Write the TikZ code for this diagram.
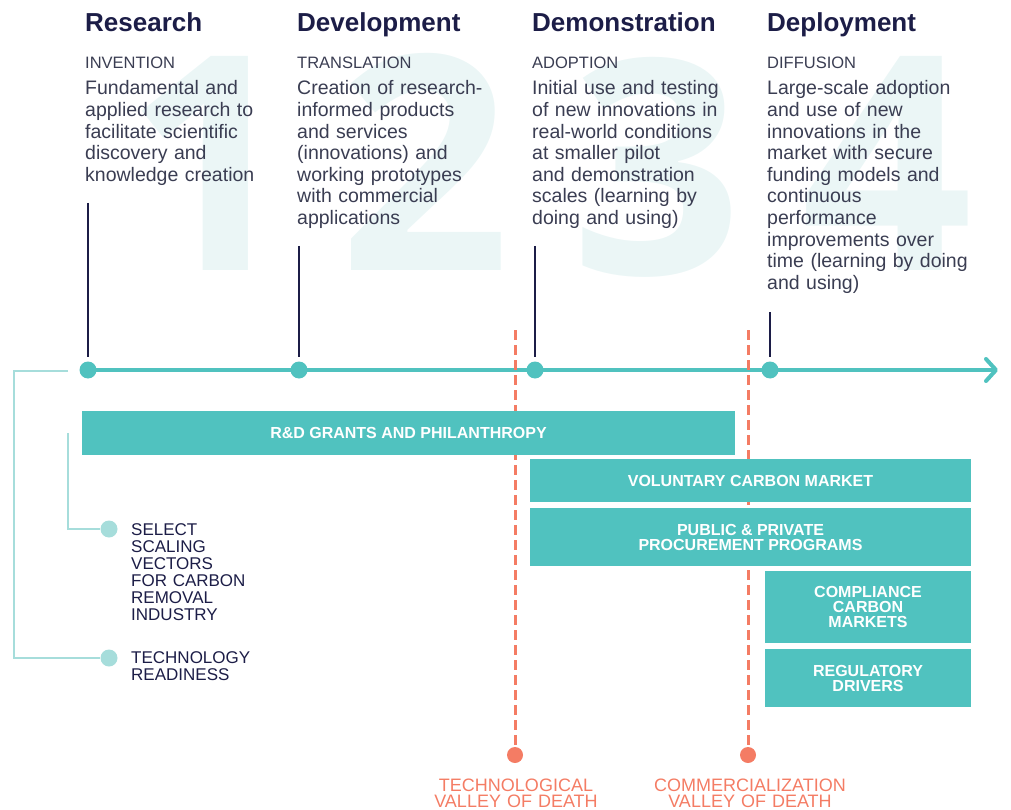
\documentclass[tikz,border=0pt]{standalone}
\usepackage{fontspec}
\setmainfont{Liberation Sans}
\newfontfamily\numfont{Open Sans}
\usetikzlibrary{arrows.meta}
\usetikzlibrary{positioning}

\definecolor{navy}{HTML}{1C1D47}
\definecolor{bodygray}{HTML}{3A3D52}
\definecolor{barteal}{HTML}{50C2BF}
\definecolor{paleteal}{HTML}{A6DDDB}
\definecolor{salmon}{HTML}{F47C64}
\definecolor{ghost}{HTML}{EBF6F6}

\begin{document}
\begin{tikzpicture}[x=1pt, y=-1pt,
	stage/.style={anchor=base west, inner sep=0, text=navy, font=\fontsize{26}{26}\selectfont\bfseries},
	phase/.style={anchor=base west, inner sep=0, text=bodygray, font=\fontsize{16.5}{16.5}\selectfont},
	blurb/.style={anchor=base west, inner sep=0, text width=240pt, align=left, text=bodygray, font=\fontsize{19.5}{21.6}\selectfont},
	bignum/.style={anchor=base, inner sep=0, text=ghost, font=\numfont\fontsize{300}{300}\selectfont\bfseries},
	milestone/.style={circle, fill=barteal, inner sep=0, minimum size=17pt},
	leader/.style={navy, line width=2pt},
	timeline/.style={barteal, line width=4pt, -{Straight Barb[length=10pt, width=22pt, line cap=round, line join=round]}},
	funding/.style={fill=barteal, inner sep=0, align=center, text=white, font=\fontsize{16}{15}\selectfont\bfseries},
	valley/.style={salmon, line width=3pt, dash pattern=on 10pt off 5pt},
	valleydot/.style={circle, fill=salmon, inner sep=0, minimum size=16pt},
	valleytext/.style={anchor=base, inner sep=0, text width=240pt, align=center, text=salmon, font=\fontsize{18}{16}\selectfont},
	bracket/.style={paleteal, line width=2pt},
	keydot/.style={circle, fill=paleteal, inner sep=0, minimum size=17pt},
	keytext/.style={anchor=base west, inner sep=0, text width=150pt, align=left, text=navy, font=\fontsize{17}{17}\selectfont}]

\useasboundingbox (0,0) rectangle (1011,810);

% big stage numbers behind the text
\node[bignum] (n1) at (210,270) {1};
\node[bignum] (n2) at (425,270) {2};
\node[bignum] (n3) at (657,274) {3};
\node[bignum] (n4) at (887,270) {4};

% stages
\node[stage] (research) at (85,32) {Research};
\node[phase] (invention) at (85,69) {INVENTION};
\node[blurb] (b1) at (85,95) {Fundamental and\\applied research to\\facilitate scientific\\discovery and\\knowledge creation};

\node[stage] (development) at (297,32) {Development};
\node[phase] (translation) at (297,69) {TRANSLATION};
\node[blurb] (b2) at (297,95) {Creation of research-\\informed products\\and services\\(innovations) and\\working prototypes\\with commercial\\applications};

\node[stage] (demonstration) at (532,32) {Demonstration};
\node[phase] (adoption) at (532,69) {ADOPTION};
\node[blurb] (b3) at (532,95) {Initial use and testing\\of new innovations in\\real-world conditions\\at smaller pilot\\and demonstration\\scales (learning by\\doing and using)};

\node[stage] (deployment) at (767,32) {Deployment};
\node[phase] (diffusion) at (767,69) {DIFFUSION};
\node[blurb] (b4) at (767,95) {Large-scale adoption\\and use of new\\innovations in the\\market with secure\\funding models and\\continuous\\performance\\improvements over\\time (learning by doing\\and using)};

% timeline
\node[milestone] (m1) at (88,370) {};
\node[milestone] (m2) at (299,370) {};
\node[milestone] (m3) at (535,370) {};
\node[milestone] (m4) at (770,370) {};
\coordinate (tip) at (998,370);
\draw[timeline] (m1.center) -- (tip);

\coordinate (t1) at (88,203);
\coordinate (t2) at (299,246);
\coordinate (t3) at (535,246);
\coordinate (t4) at (770,312);
\foreach \i in {1,...,4}
	\draw[leader, shorten >=4pt] (t\i) -- (m\i);

% valleys of death
\coordinate (v1) at (515,330);
\coordinate (v2) at (748,330);
\node[valleydot] (d1) at (515,755) {};
\node[valleydot] (d2) at (748,755) {};
\draw[valley] (v1) -- (d1);
\draw[valley] (v2) -- (d2);
\node[valleytext] (tech) at (516,791) {TECHNOLOGICAL\\VALLEY OF DEATH};
\node[valleytext] (comm) at (750,791) {COMMERCIALIZATION\\VALLEY OF DEATH};

% funding bars
\node[funding, minimum width=653pt, minimum height=44pt] (grants) at (408.5,433) {R\&D GRANTS AND PHILANTHROPY};
\node[funding, minimum width=441pt, minimum height=43pt] (vcm) at (750.5,480.5) {VOLUNTARY CARBON MARKET};
\node[funding, minimum width=441pt, minimum height=58pt] (procure) at (750.5,537) {PUBLIC \& PRIVATE\\PROCUREMENT PROGRAMS};
\node[funding, minimum width=206pt, minimum height=72pt] (ccm) at (868,607) {COMPLIANCE\\CARBON\\MARKETS};
\node[funding, minimum width=206pt, minimum height=58pt] (reg) at (868,678) {REGULATORY\\DRIVERS};

% legend brackets
\node[keydot] (k1) at (109,529) {};
\node[keydot] (k2) at (109,658) {};
\node[keytext] (vectors) at (131,535) {SELECT\\SCALING\\VECTORS\\FOR CARBON\\REMOVAL\\INDUSTRY};
\node[keytext] (trl) at (131,663) {TECHNOLOGY\\READINESS};
\coordinate (c1) at (68,433);
\coordinate (c2) at (68,371);
\draw[bracket] (c1) |- (k1);
\draw[bracket] (c2) -- (14,371) |- (k2);

\end{tikzpicture}
\end{document}
